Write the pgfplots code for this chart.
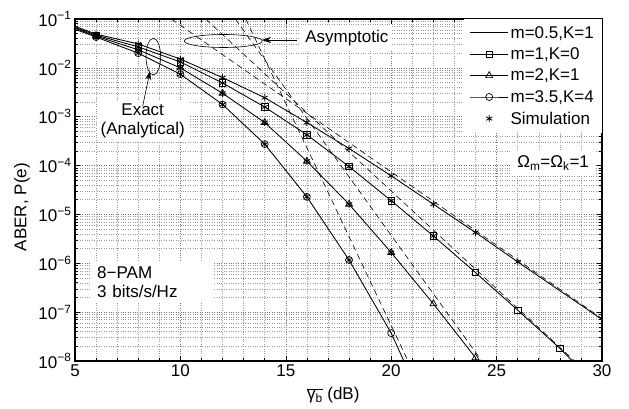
\documentclass[border=0pt]{standalone}
\usepackage{fontspec}
\setmainfont{Liberation Sans}
\usepackage{pgfplots}
\usepackage{pgfplotstable}
\pgfplotsset{compat=1.18}
\usetikzlibrary{arrows.meta}
\newcommand{\sz}{\fontsize{17}{19}\selectfont}

% m=0.5, K=1
\pgfplotstableread{
x y
5 0.0708
6 0.0490
8 0.0309
10 0.0151
12 6.31e-3
14 2.45e-3
16 7.59e-4
18 2.24e-4
20 6.17e-5
22 1.62e-5
24 4.27e-6
26 1.07e-6
28 2.75e-7
30 7.08e-8
}\curveA
% m=1, K=0
\pgfplotstableread{
x y
5 0.0676
6 0.0468
8 0.0269
10 0.0132
12 4.90e-3
14 1.58e-3
16 4.27e-4
18 9.55e-5
20 1.91e-5
22 3.63e-6
24 6.46e-7
26 1.10e-7
28 1.82e-8
28.6 1.0e-8
}\curveB
% m=2, K=1
\pgfplotstableread{
x y
5 0.0646
6 0.0447
8 0.0234
10 0.0100
12 3.02e-3
14 7.59e-4
16 1.23e-4
18 1.62e-5
20 1.66e-6
22 1.48e-7
24 1.17e-8
24.06 1.0e-8
}\curveC
% m=3.5, K=4
\pgfplotstableread{
x y
5 0.0617
6 0.0427
8 0.0200
10 7.41e-3
12 1.78e-3
14 2.75e-4
16 2.29e-5
18 1.17e-6
20 3.72e-8
20.6 1.0e-8
}\curveD

\begin{document}
\begin{tikzpicture}[font=\sz]
\useasboundingbox (-75pt,-48pt) rectangle (554pt,361pt);
\begin{axis}[
  at={(0,0)}, anchor=south west,
  scale only axis, width=527pt, height=342pt,
  ymode=log, log basis y=10,
  xmin=5, xmax=30, ymin=1e-8, ymax=1e-1,
  xtick={5,10,...,30}, minor x tick num=4,
  ytick={1e-8,1e-7,1e-6,1e-5,1e-4,1e-3,1e-2,1e-1},
  yticklabels={10\textsuperscript{−8},10\textsuperscript{−7},10\textsuperscript{−6},10\textsuperscript{−5},10\textsuperscript{−4},10\textsuperscript{−3},10\textsuperscript{−2},10\textsuperscript{−1}},
  minor ytick={2e-8,3e-8,4e-8,5e-8,6e-8,7e-8,8e-8,9e-8,
    2e-7,3e-7,4e-7,5e-7,6e-7,7e-7,8e-7,9e-7,
    2e-6,3e-6,4e-6,5e-6,6e-6,7e-6,8e-6,9e-6,
    2e-5,3e-5,4e-5,5e-5,6e-5,7e-5,8e-5,9e-5,
    2e-4,3e-4,4e-4,5e-4,6e-4,7e-4,8e-4,9e-4,
    2e-3,3e-3,4e-3,5e-3,6e-3,7e-3,8e-3,9e-3,
    2e-2,3e-2,4e-2,5e-2,6e-2,7e-2,8e-2,9e-2},
  /pgf/number format/assume math mode=true,
  ticklabel style={font=\sz},
  label style={font=\sz},
  grid=both,
  major grid style={dotted, black!55, line width=0.5pt},
  minor grid style={dotted, black!40, line width=0.45pt},
  major tick length=5pt, minor tick length=3pt,
  tick style={black, line width=0.6pt},
  axis line style={line width=1.1pt},
  xlabel={$\overline{\mbox{γ\textsubscript{b}}}$ (dB)},
  xlabel style={at={(axis description cs:0.49,-0.0994)}, anchor=center},
  ylabel={ABER, P(e)},
  ylabel style={at={(axis description cs:-0.1006,0.45)}, anchor=center},
  legend style={at={(1,1)}, anchor=north east, draw=none, fill=white,
    inner xsep=6pt, inner ysep=5pt, row sep=4pt, font=\sz,
    cells={anchor=west}},
  legend image code/.code={\draw[mark repeat=2,mark phase=2,#1] plot coordinates {(0pt,0pt) (19pt,0pt) (38pt,0pt)};},
]
% asymptotes
\addplot[black, line width=0.6pt, dash pattern=on 6pt off 4pt, forget plot] coordinates {(9.57,0.1) (30,7.4e-8)};
\addplot[black, line width=0.6pt, dash pattern=on 6pt off 4pt, forget plot] coordinates {(11.2,0.1) (28.7,1e-8)};
\addplot[black, line width=0.6pt, dash pattern=on 6pt off 4pt, forget plot] coordinates {(12.6,0.1) (24.3,1e-8)};
\addplot[black, line width=0.6pt, dash pattern=on 6pt off 4pt, forget plot] coordinates {(13.1,0.1) (20.8,1e-8)};
% exact curves
\addplot[black, line width=0.85pt, mark=none, forget plot] table {\curveA};
\addplot[black, line width=0.85pt, mark=none, forget plot] table {\curveB};
\addplot[black, line width=0.85pt, mark=none, forget plot] table {\curveC};
\addplot[black, line width=0.85pt, mark=none, forget plot] table {\curveD};
% analytic markers
\addplot[black, only marks, mark=square, mark size=3.2pt, line width=0.7pt, restrict x to domain=5.5:28.2, forget plot] table {\curveB};
\addplot[black, only marks, mark=triangle, mark size=4pt, line width=0.7pt, restrict x to domain=5.5:24.02, forget plot] table {\curveC};
\addplot[black, only marks, mark=o, mark size=3.5pt, line width=0.7pt, restrict x to domain=5.5:20.3, forget plot] table {\curveD};
% simulation
\addplot[black, only marks, mark=asterisk, mark size=3.5pt, line width=0.8pt, restrict x to domain=5.5:26.5, forget plot] table {\curveA};
\addplot[black, only marks, mark=asterisk, mark size=3.5pt, line width=0.8pt, restrict x to domain=5.5:22.5, forget plot] table {\curveB};
\addplot[black, only marks, mark=asterisk, mark size=3.5pt, line width=0.8pt, restrict x to domain=5.5:20.5, forget plot] table {\curveC};
\addplot[black, only marks, mark=asterisk, mark size=3.5pt, line width=0.8pt, restrict x to domain=5.5:18.5, forget plot] table {\curveD};
% legend
\addlegendimage{black, line width=0.85pt, mark=none}
\addlegendentry{m=0.5,K=1}
\addlegendimage{black, line width=0.85pt, mark=square, mark size=3.2pt, mark options={line width=0.7pt}}
\addlegendentry{m=1,K=0}
\addlegendimage{black, line width=0.85pt, mark=triangle, mark size=4pt, mark options={line width=0.7pt}}
\addlegendentry{m=2,K=1}
\addlegendimage{black, line width=0.85pt, mark=o, mark size=3.5pt, mark options={line width=0.7pt}}
\addlegendentry{m=3.5,K=4}
\addlegendimage{black, only marks, mark=asterisk, mark size=3.5pt, line width=0.8pt}
\addlegendentry{Simulation}
% annotations
\draw[line width=0.6pt] (axis description cs:0.2814,0.9357) ellipse [x radius=39pt, y radius=6.5pt];
\draw[line width=0.6pt, -{Stealth[length=9pt,width=6pt]}] (axis description cs:0.4207,0.9386) -- (axis description cs:0.3548,0.9386);
\node[anchor=west, fill=white, inner xsep=4pt, inner ysep=5pt] at (axis description cs:0.4290,0.9436) {Asymptotic};
\draw[line width=0.6pt] (axis description cs:0.1486,0.8900) ellipse [x radius=7.3pt, y radius=18.3pt];
\node[fill=white, align=center, inner sep=4pt] at (axis description cs:0.1285,0.7018) {Exact\\(Analytical)};
\draw[line width=0.6pt, -{Stealth[length=9pt,width=6pt]}] (axis description cs:0.1285,0.7456) -- (axis description cs:0.1423,0.8480);
\node[fill=white, anchor=north west, align=left, text width=111pt, inner xsep=5pt, minimum height=40pt] at (axis description cs:0.0323,0.2895) {8−PAM\\3 bits/s/Hz};
\node[fill=white, anchor=east, inner sep=5pt] at (axis description cs:0.985,0.579) {Ω\textsubscript{m}=Ω\textsubscript{k}=1};
\end{axis}
\end{tikzpicture}
\end{document}
